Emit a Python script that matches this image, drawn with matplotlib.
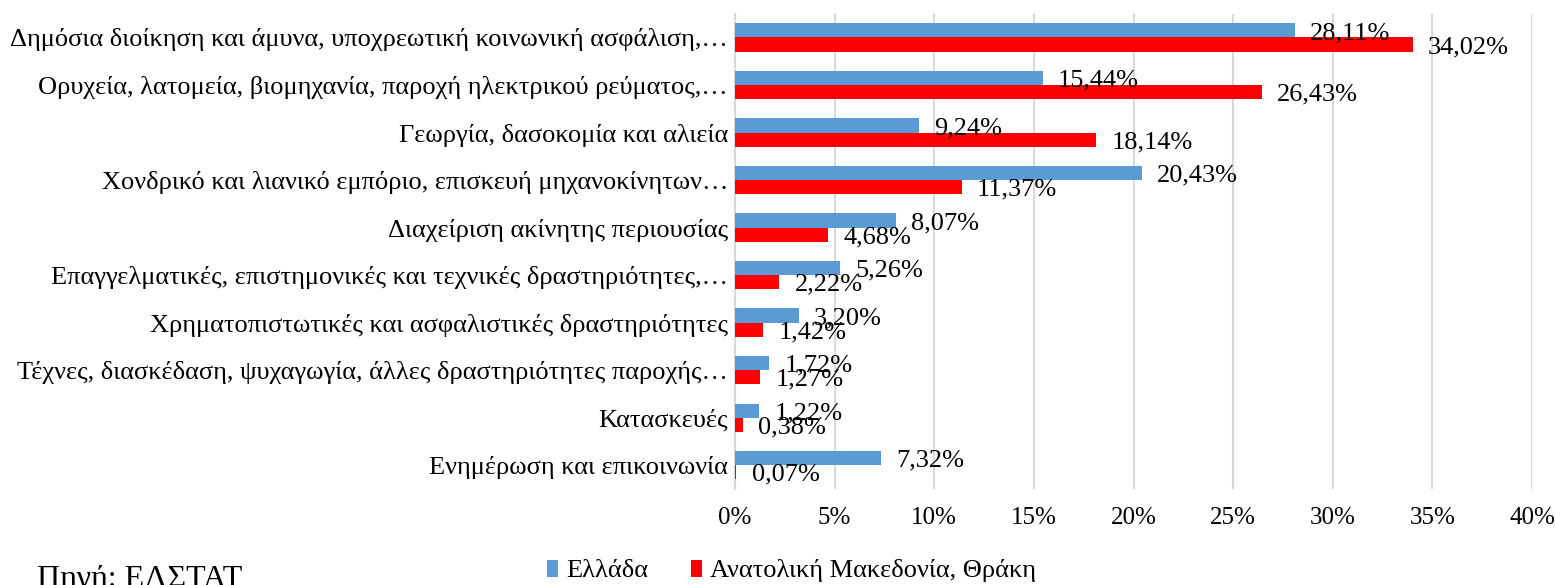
import numpy as np
import matplotlib.pyplot as plt

plt.rcParams['font.family'] = ['Liberation Serif', 'DejaVu Serif']

categories = [
    "Δημόσια διοίκηση και άμυνα, υποχρεωτική κοινωνική ασφάλιση,…",
    "Ορυχεία, λατομεία, βιομηχανία, παροχή ηλεκτρικού ρεύματος,…",
    "Γεωργία, δασοκομία και αλιεία",
    "Χονδρικό και λιανικό εμπόριο, επισκευή μηχανοκίνητων…",
    "Διαχείριση ακίνητης περιουσίας",
    "Επαγγελματικές, επιστημονικές και τεχνικές δραστηριότητες,…",
    "Χρηματοπιστωτικές και ασφαλιστικές δραστηριότητες",
    "Τέχνες, διασκέδαση, ψυχαγωγία, άλλες δραστηριότητες παροχής…",
    "Κατασκευές",
    "Ενημέρωση και επικοινωνία",
]
greece = [28.11, 15.44, 9.24, 20.43, 8.07, 5.26, 3.20, 1.72, 1.22, 7.32]
amth = [34.02, 26.43, 18.14, 11.37, 4.68, 2.22, 1.42, 1.27, 0.38, 0.07]
series_names = ["Ελλάδα", "Ανατολική Μακεδονία, Θράκη"]
xticks = [0, 5, 10, 15, 20, 25, 30, 35, 40]

blue = "#5B9BD5"
red = "#FF0000"

fig = plt.figure(figsize=(15.55, 5.85), dpi=100)
ax = fig.add_axes([0.4727, 0.1645, 0.5125, 0.812])

y = np.arange(len(categories))
h = 0.295
b1 = ax.barh(y - h / 2, greece, height=h, color=blue, label=series_names[0], zorder=3)
b2 = ax.barh(y + h / 2, amth, height=h, color=red, label=series_names[1], zorder=3)

def fmt(v):
    return f"{v:.2f}%".replace(".", ",")

for bars, vals in [(b1, greece), (b2, amth)]:
    for rect, v in zip(bars, vals):
        ax.annotate(fmt(v), (rect.get_width(), rect.get_y() + rect.get_height() / 2),
                    xytext=(11, -2), textcoords="offset points",
                    ha="left", va="center", fontsize=19, zorder=4)

ax.set_xlim(0, 40)
ax.set_ylim(len(categories) - 0.5, -0.5)
ax.set_xticks(xticks)
ax.set_xticklabels([f"{t}%" for t in xticks], fontsize=18)
ax.set_yticks(y)
ax.set_yticklabels(categories, fontsize=19)
ax.tick_params(axis="both", length=0)
ax.tick_params(axis="x", pad=13)
ax.tick_params(axis="y", pad=5)
ax.grid(axis="x", color="#d9d9d9", linewidth=1.5, zorder=0)
for s in ["top", "right", "bottom"]:
    ax.spines[s].set_visible(False)
ax.spines["left"].set_color("#d9d9d9")
ax.spines["left"].set_linewidth(1.5)

fig.legend(handles=[b1, b2], loc="center", bbox_to_anchor=(0.509, 0.024),
           ncol=2, frameon=False, fontsize=19, handlelength=0.45, handleheight=0.6,
           handletextpad=0.3, columnspacing=1.6)

fig.text(37 / 1555, 1 - 565 / 585, "Πηγή: ΕΛΣΤΑΤ", fontsize=23, ha="left", va="top")

fig.savefig("out.png", dpi=100)
